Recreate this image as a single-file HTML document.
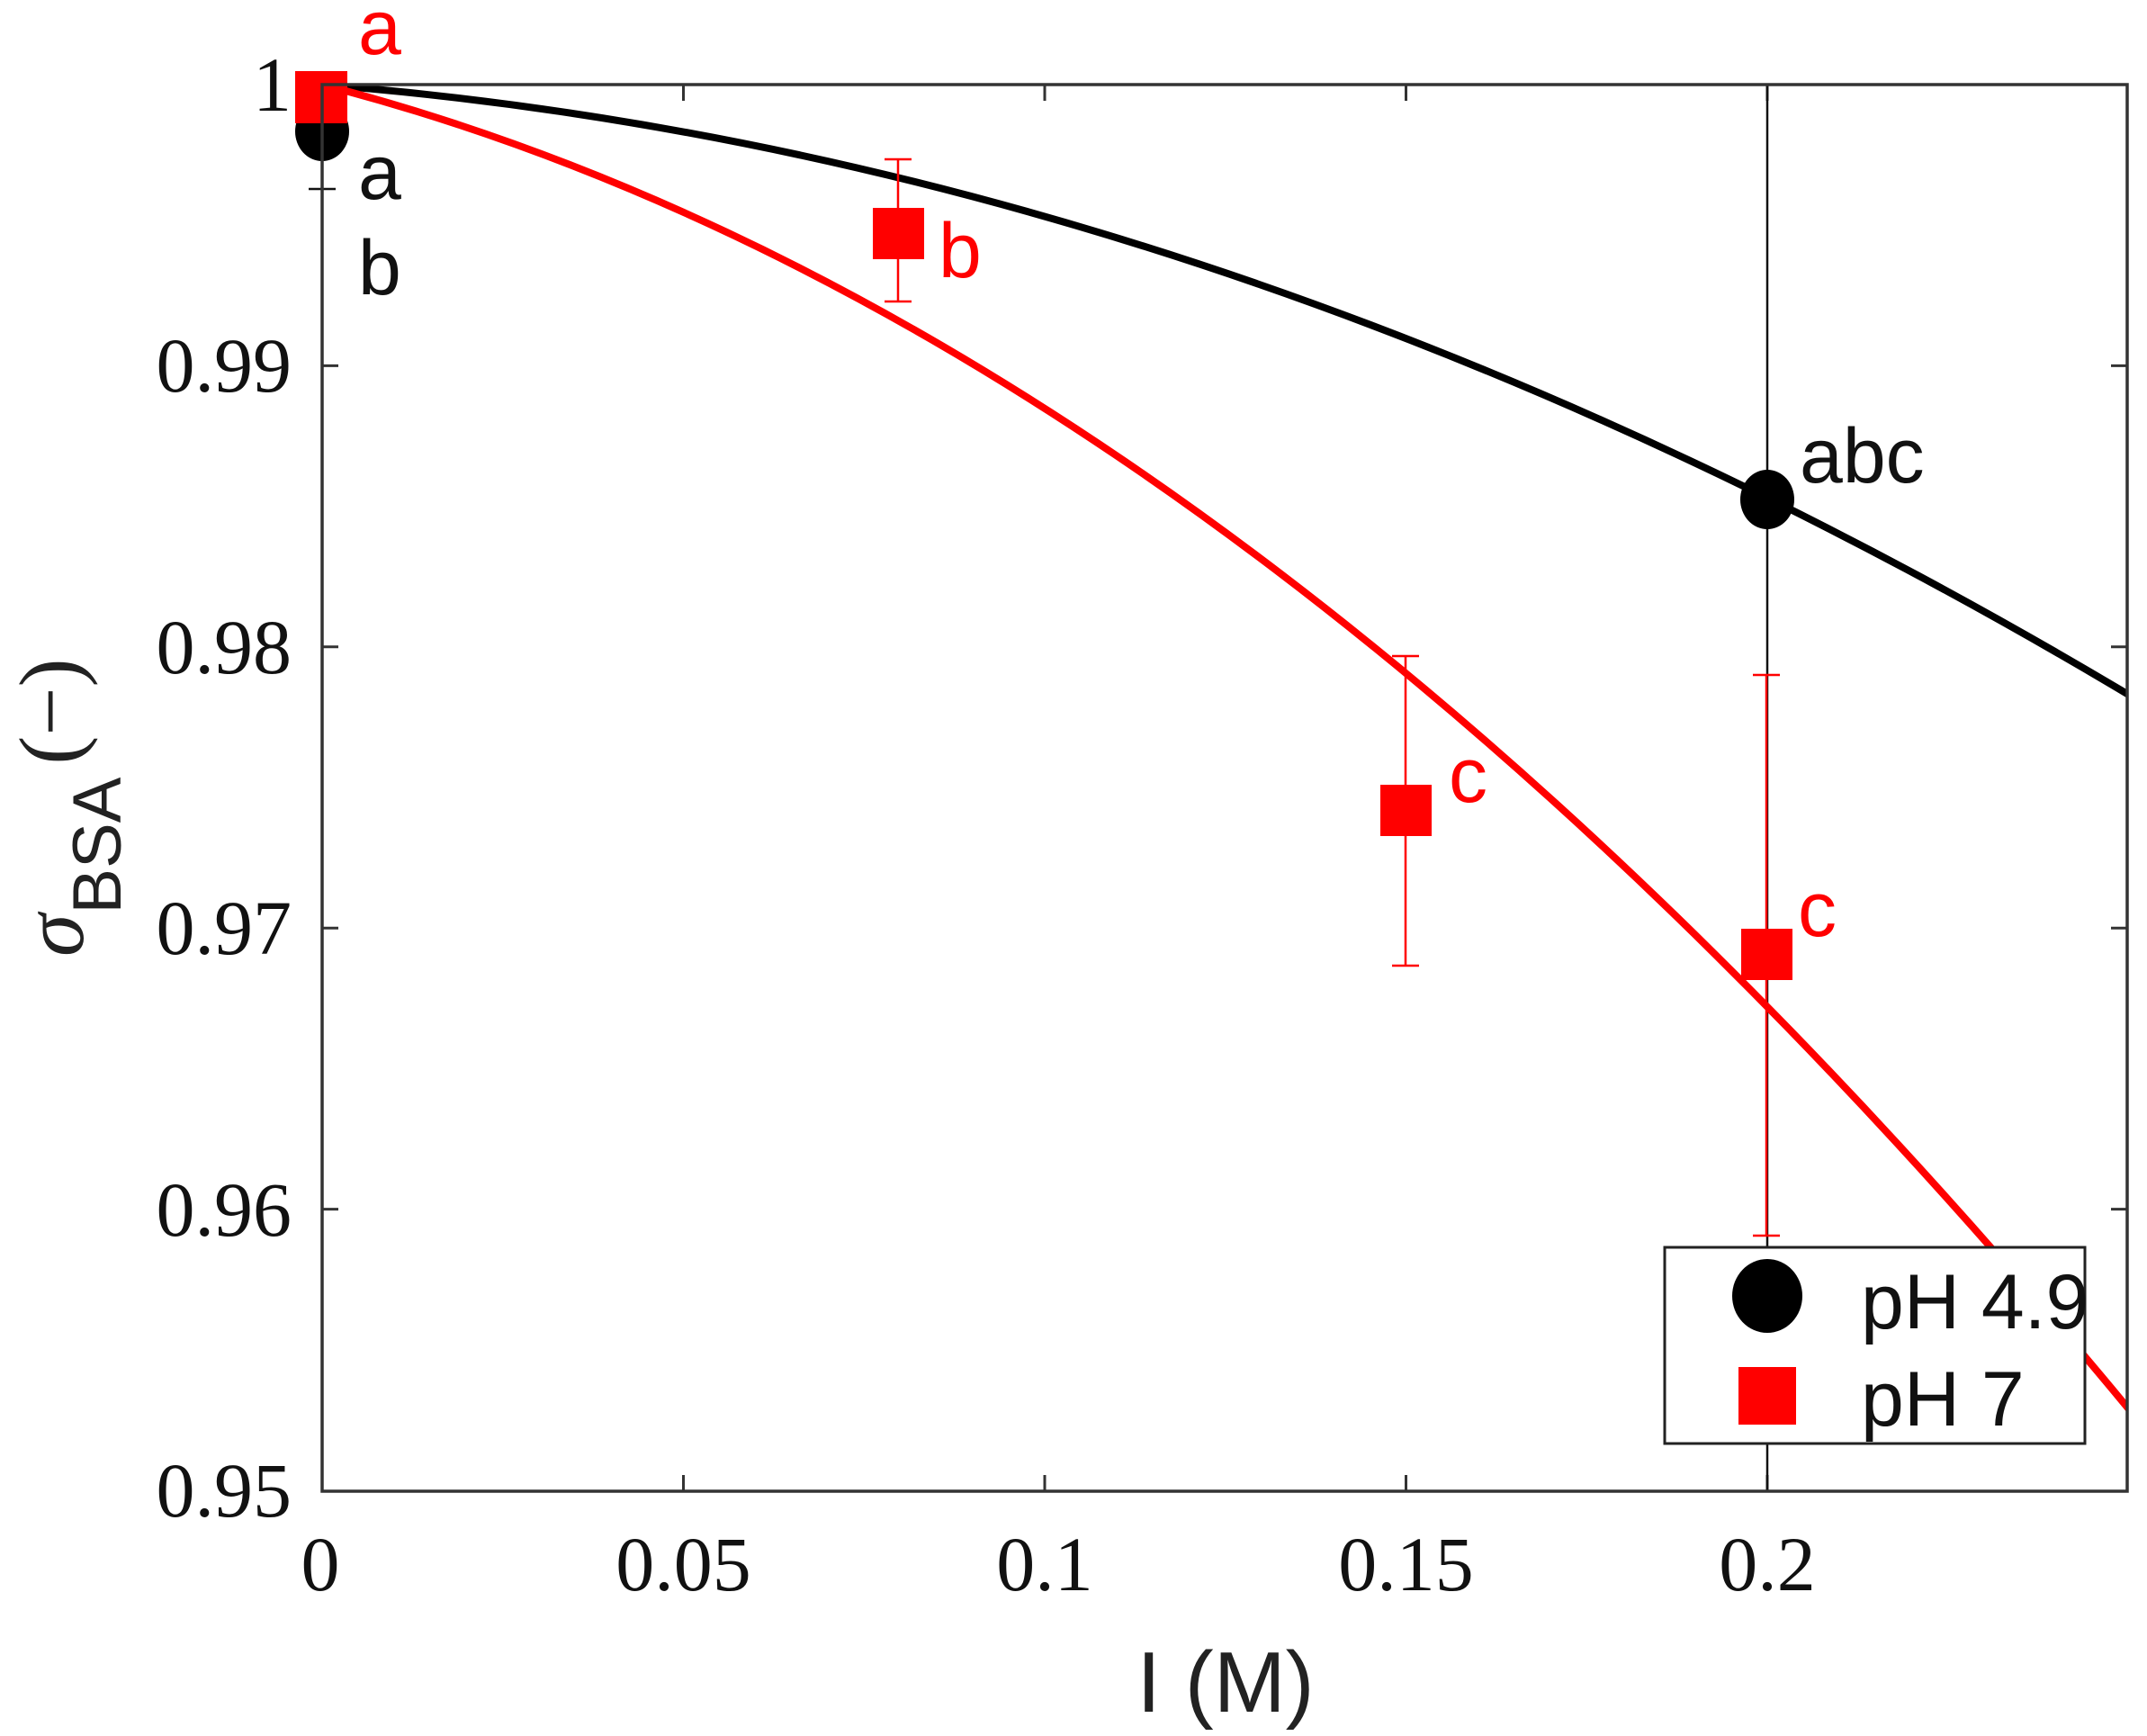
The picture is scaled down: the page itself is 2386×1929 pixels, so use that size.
<!DOCTYPE html>
<html><head><meta charset="utf-8"><style>
html,body{margin:0;padding:0;background:#fff;}
svg{display:block;}
.tk{font-family:"Liberation Serif",serif;font-size:86px;fill:#111;}
.an{font-family:"Liberation Sans",sans-serif;font-size:86px;}
</style></head><body>
<svg width="2386" height="1929" viewBox="0 0 2386 1929" xmlns="http://www.w3.org/2000/svg">
<defs><clipPath id="c"><rect x="358" y="94" width="2006" height="1563"/></clipPath></defs>
<rect width="2386" height="1929" fill="#fff"/>
<g stroke="#333" stroke-width="3">
<path d="M759.5 1657v-18M1161 1657v-18M1562.5 1657v-18M1964 1657v-18M759.5 94v18M1161 94v18M1562.5 94v18M1964 94v18"/>
<path d="M358 406.4h18M358 718.8h18M358 1031.2h18M358 1343.6h18M2364 406.4h-18M2364 718.8h-18M2364 1031.2h-18M2364 1343.6h-18"/>
</g>
<g stroke="#111" stroke-width="2.5" fill="none">
<line x1="358" y1="144" x2="358" y2="210"/><line x1="343" y1="210" x2="373" y2="210"/>
<line x1="1964" y1="94" x2="1964" y2="1657"/>
</g>
<g clip-path="url(#c)" fill="none" stroke-width="8" stroke-linejoin="round">
<path stroke="#000" d="M358,94 Q1361.75,173.3 2365.5,771.9"/>
<path stroke="#f00" d="M358,94 Q1361.75,353.3 2365.5,1565.4"/>
</g>
<g stroke="#f00" stroke-width="2.5">
<path d="M998 177V335M983 177h30M983 335h30"/>
<path d="M1562 729V1073M1547 729h30M1547 1073h30"/>
<path d="M1963 750V1373M1948 750h30M1948 1373h30"/>
</g>
<ellipse cx="358" cy="146" rx="30" ry="33" fill="#000"/>
<ellipse cx="1964" cy="555" rx="30" ry="33" fill="#000"/>
<rect x="328" y="79" width="58" height="58" fill="#f00"/>
<rect x="970" y="231" width="57" height="57" fill="#f00"/>
<rect x="1534" y="872" width="57" height="57" fill="#f00"/>
<rect x="1935" y="1032" width="57" height="57" fill="#f00"/>
<rect x="358" y="94" width="2006" height="1563" fill="none" stroke="#333" stroke-width="3.5"/>
<rect x="1850" y="1386" width="467" height="218" fill="#fff" stroke="#222" stroke-width="3"/>
<ellipse cx="1964" cy="1440" rx="39" ry="41" fill="#000"/>
<rect x="1932" y="1519" width="64" height="64" fill="#f00"/>
<text class="an" x="2068" y="1476" fill="#111" font-size="80">pH 4.9</text>
<text class="an" x="2068" y="1584" fill="#111" font-size="80">pH 7</text>
<text class="an" x="398" y="60" fill="#f00">a</text>
<text class="an" x="398" y="221" fill="#111">a</text>
<text class="an" x="398" y="327" fill="#111">b</text>
<text class="an" x="1043" y="308" fill="#f00">b</text>
<text class="an" x="2000" y="536" fill="#111">abc</text>
<text class="an" x="1610" y="891" fill="#f00">c</text>
<text class="an" x="1998" y="1040" fill="#f00">c</text>
<g class="tk" text-anchor="end">
<text x="324" y="123">1</text>
<text x="324" y="435">0.99</text>
<text x="324" y="748">0.98</text>
<text x="324" y="1060">0.97</text>
<text x="324" y="1373">0.96</text>
<text x="324" y="1685">0.95</text>
</g>
<g class="tk" text-anchor="middle">
<text x="356" y="1767">0</text>
<text x="759.5" y="1767">0.05</text>
<text x="1161" y="1767">0.1</text>
<text x="1562.5" y="1767">0.15</text>
<text x="1964" y="1767">0.2</text>
</g>
<text x="1362" y="1902" text-anchor="middle" font-family="Liberation Sans, sans-serif" font-size="96" fill="#222">I (M)</text>
<g transform="translate(92,1063) rotate(-90)">
<text x="0" y="0" fill="#222"><tspan font-family="Liberation Serif, serif" font-style="italic" font-size="96">σ</tspan><tspan font-family="Liberation Sans, sans-serif" font-size="76" dy="42">BSA</tspan><tspan font-family="Liberation Serif, serif" font-size="96" dy="-46" dx="14">(−)</tspan></text>
</g>
</svg>
</body></html>
